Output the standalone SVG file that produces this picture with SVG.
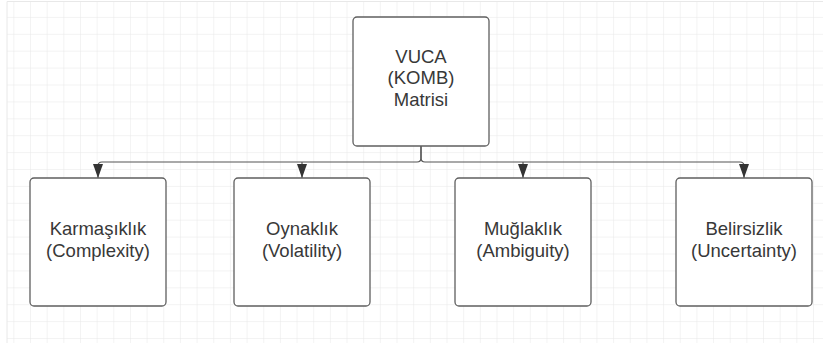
<svg xmlns="http://www.w3.org/2000/svg" width="823" height="343" viewBox="0 0 823 343">
  <style>
    .box { fill: #ffffff; stroke: #5f5f5f; stroke-width: 1.3; }
    .lbl { font-family: "Liberation Sans", Arial, sans-serif; font-size: 18.5px; fill: #383838; text-anchor: middle; }
    .conn { fill: none; stroke: #555555; stroke-width: 1.2; }
  </style>
  <defs>
    <pattern id="grid" x="13.34" y="0" width="16.66" height="16.9" patternUnits="userSpaceOnUse">
      <path d="M0 0 H16.66 M0 0 V16.9" stroke="#e8e8e8" stroke-width="1" fill="none"/>
    </pattern>
    <marker id="arr" viewBox="0 0 14 10" markerWidth="14" markerHeight="10" refX="14" refY="5" orient="auto" markerUnits="userSpaceOnUse">
      <path d="M0 0 L14 5 L0 10 Z" fill="#333333"/>
    </marker>
  </defs>
  <rect x="0" y="0" width="823" height="343" fill="#ffffff"/>
  <rect x="7" y="1.5" width="816" height="342" fill="url(#grid)"/>
  <path d="M7 1.5 H823 M7 1.5 V343" stroke="#e8e8e8" stroke-width="1" fill="none"/>

  <g id="connectors">
    <path class="conn" d="M421 146 V158 Q421 162 417 162 H102 Q98 162 98 166 V178" marker-end="url(#arr)"/>
    <path class="conn" d="M421 146 V158 Q421 162 425 162 H740 Q744 162 744 166 V178" marker-end="url(#arr)"/>
    <path class="conn" d="M302 162 V178" marker-end="url(#arr)"/>
    <path class="conn" d="M523 162 V178" marker-end="url(#arr)"/>
  </g>

  <g id="node-vuca">
    <rect class="box" x="353" y="17" width="136" height="129" rx="4"/>
    <text class="lbl" x="421" y="62.5">VUCA</text>
    <text class="lbl" x="421" y="84">(KOMB)</text>
    <text class="lbl" x="421" y="105.5">Matrisi</text>
  </g>
  <g id="node-complexity">
    <rect class="box" x="30" y="178" width="136" height="128" rx="4"/>
    <text class="lbl" x="98" y="235">Karmaşıklık</text>
    <text class="lbl" x="98" y="257">(Complexity)</text>
  </g>
  <g id="node-volatility">
    <rect class="box" x="234" y="178" width="136" height="128" rx="4"/>
    <text class="lbl" x="302" y="235">Oynaklık</text>
    <text class="lbl" x="302" y="257">(Volatility)</text>
  </g>
  <g id="node-ambiguity">
    <rect class="box" x="455" y="178" width="136" height="128" rx="4"/>
    <text class="lbl" x="523" y="235">Muğlaklık</text>
    <text class="lbl" x="523" y="257">(Ambiguity)</text>
  </g>
  <g id="node-uncertainty">
    <rect class="box" x="676" y="178" width="136" height="128" rx="4"/>
    <text class="lbl" x="744" y="235">Belirsizlik</text>
    <text class="lbl" x="744" y="257">(Uncertainty)</text>
  </g>
</svg>
